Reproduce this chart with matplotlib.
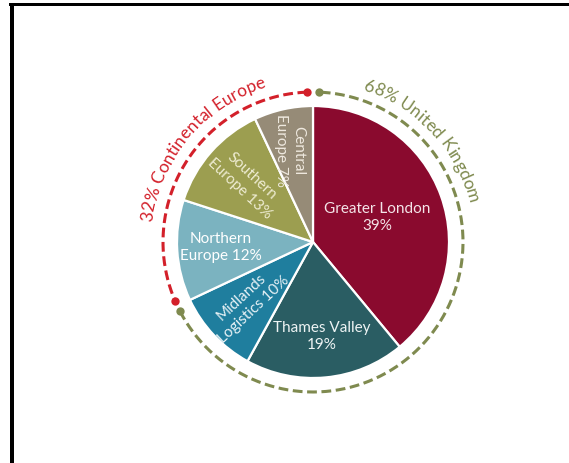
import numpy as np
import matplotlib
matplotlib.use("Agg")
import matplotlib.pyplot as plt
from matplotlib.font_manager import FontProperties
from matplotlib.patches import Rectangle

plt.rcParams["font.family"] = ["Lato", "DejaVu Sans"]

# portfolio split by region (% of value)
regions = ["Greater London", "Thames Valley", "Midlands\nLogistics",
           "Northern\nEurope", "Southern\nEurope", "Central\nEurope"]
shares = [39, 19, 10, 12, 13, 7]
name_sep = ["\n", "\n", " ", " ", " ", " "]

groups = ["United Kingdom", "Continental Europe"]
group_shares = [68, 32]

colours = ["#8a0a2e", "#2a5d63", "#1f7e9e", "#7bb3c0", "#9c9e50", "#968b77"]
text_colours = ["#f4e4e8", "#eef4f4", "#e8f2f6", "#ffffff", "#eeecd2", "#efe9df"]
label_frac = [0.53, 0.70, 0.66, 0.68, 0.66, 0.69]
label_rot = [0, 0, 43, 0, -43, -90]
label_shift = [-4, 0, 0, 0, 0, -3]

W, H = 569, 463
cx, cy = 313, 221
R = 136
R_ARC = 150

fig = plt.figure(figsize=(W / 100, H / 100), dpi=100)
ax = fig.add_axes([0, 0, 1, 1])

wedges, _ = ax.pie(shares, colors=colours, startangle=90, counterclock=False,
                   center=(cx, cy), radius=R, frame=False,
                   wedgeprops=dict(edgecolor="white", linewidth=1.6))

ax.set_xlim(0, W)
ax.set_ylim(0, H)
ax.set_aspect("equal")
ax.axis("off")

# labels inside the slices
for i, w in enumerate(wedges):
    mid = np.deg2rad((w.theta1 + w.theta2) / 2)
    r = R * label_frac[i]
    x = cx + r * np.cos(mid) + label_shift[i]
    y = cy + r * np.sin(mid)
    txt = regions[i] + name_sep[i] + f"{shares[i]}%"
    ax.text(x, y, txt, ha="center", va="center", color=text_colours[i],
            fontsize=11, rotation=label_rot[i], rotation_mode="anchor",
            linespacing=1.25)

# dashed group arcs with end dots
split = 90 - group_shares[0] * 3.6 + 360
gap = 2.2
arc_specs = [
    (groups[0], group_shares[0], "#7f8a4f", split + gap, 450 - gap),
    (groups[1], group_shares[1], "#d3202a", 90 + gap, split - gap),
]
for name, pct, col, a0, a1 in arc_specs:
    t = np.deg2rad(np.linspace(a0, a1, 300))
    ax.plot(cx + R_ARC * np.cos(t), cy + R_ARC * np.sin(t), color=col,
            lw=2.2, dashes=(3.2, 1.5), solid_capstyle="butt")
    ends = np.deg2rad([a0, a1])
    ax.plot(cx + R_ARC * np.cos(ends), cy + R_ARC * np.sin(ends), "o",
            color=col, ms=6, mec="none")

# text running round the circle, clockwise
renderer = fig.canvas.get_renderer()


def arc_text(s, start_deg, radius, colour, size):
    prop = FontProperties(family=["Lato", "DejaVu Sans"], size=size)

    def width(t):
        return renderer.get_text_width_height_descent(t, prop, ismath=False)[0]

    base = width("ii")
    pos = 0.0
    for ch in s:
        w = width("i" + ch + "i") - base
        th = np.deg2rad(start_deg) - (pos + w / 2) / radius
        ax.text(cx + radius * np.cos(th), cy + radius * np.sin(th), ch,
                rotation=np.rad2deg(th) - 90, rotation_mode="anchor",
                ha="center", va="baseline", color=colour, fontproperties=prop)
        pos += w


arc_text(f"{group_shares[1]}% {groups[1]}", 173, 162, "#d3202a", 12.5)
arc_text(f"{group_shares[0]}% {groups[0]}", 72, 160, "#7f8a4f", 12.5)

# frame lines along top and left edge
ax.add_patch(Rectangle((9, H - 6), W - 9, 3, color="black", lw=0))
ax.add_patch(Rectangle((10, 0), 4, H - 6, color="black", lw=0))

fig.savefig("out.png", dpi=100)
